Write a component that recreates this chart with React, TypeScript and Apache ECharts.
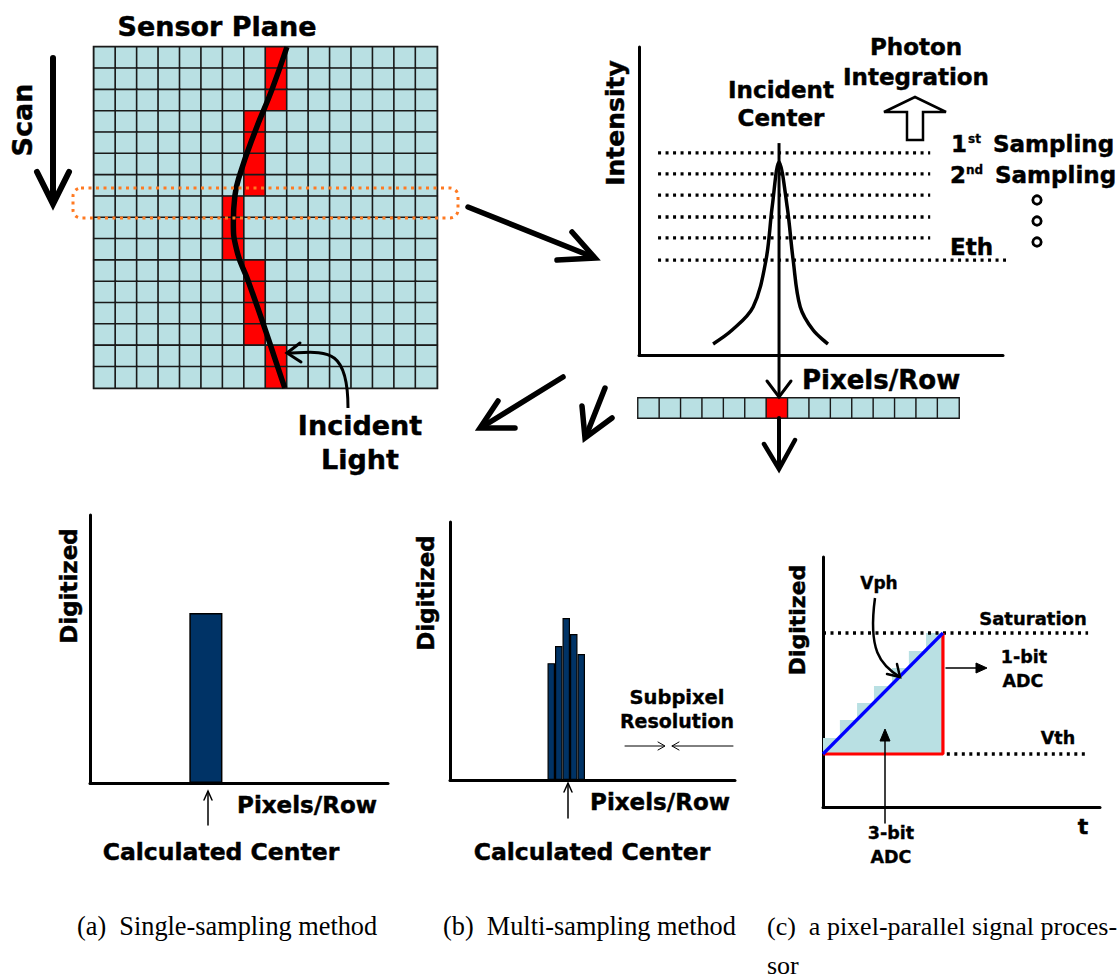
import React, { useEffect, useRef } from "react";
import * as echarts from "echarts";

// ---------- data ----------
const CELL_BLUE = "#b9e0e3";
const CELL_RED = "#ff0000";
const NAVY = "#003366";

const sensorCols = 16;
const sensorRows = 16;
// column of the lit (red) pixel in every row of the sensor plane
const sensorRedColumnByRow = [8, 8, 8, 7, 7, 7, 7, 6, 6, 6, 7, 7, 7, 7, 8, 8];
// incident light trace, in cell units (x = column, y = row from top)
const lightTraceCol = [9.0, 8.3, 7.5, 6.8, 6.57, 6.5, 6.65, 7.2, 7.9, 8.4, 8.9];
const lightTraceRow = [0, 2, 4, 6, 7, 8.2, 9.5, 11, 13, 14.5, 16];

// intensity profile across one row (x in pixel units, y in % of axis height)
const intensityX = [3.46, 4.35, 5.33, 5.93, 6.22, 6.54, 6.92, 7.2, 7.53, 8.13, 8.83];
const intensityY = [3.6, 8.1, 15.6, 30.8, 48.1, 62.7, 48.1, 30.8, 15.6, 8.1, 3.6];
const samplingLevels = [65.6, 58.8, 51.9, 44.8, 38.0, 30.8];
const samplingLineStart = 0.89;
const samplingLineEnds = [13.6, 13.6, 13.6, 13.6, 13.6, 17.57];
const incidentCenterX = 6.54;
const incidentCenterTop = 68.8;
const incidentCenterBottom = -13.7;

const pixelRowCount = 15;
const pixelRowRedIndex = 6;

// (a) single sampling
const singleCategories = ["0", "1", "2", "3", "4", "5", "6", "7", "8"];
const singleValues: (number | string)[] = ["-", "-", "-", 63.4, "-", "-", "-", "-", "-"];

// (b) multi sampling
const multiCategoryCount = 38;
const multiStartIndex = 13;
const multiValues = [45.3, 51.9, 62.8, 56.6, 48.8];

// (c) pixel-parallel processor
const vthLevel = 21.2;
const saturationLevel = 69.6;
const rampEndX = 43.3;
const dottedEndX = 95.7;
const stairEdgesX = [0, 6.1, 12.3, 18.4, 24.9, 31.0, 37.2, 43.3];
const stairTops = [27.6, 34.8, 41.6, 48.4, 55.6, 62.4, 69.6];

// ---------- helpers ----------
const FONT = "DejaVu Sans";

function txt(text: string, x: number, y: number, size: number, o: any = {}) {
  const align = o.align || "center";
  const heavy = !o.weight || o.weight === "bold";
  return {
    type: "text",
    z: 100,
    x,
    y,
    rotation: o.rotation || 0,
    style: {
      text,
      x: 0,
      y: 0,
      fill: "#000",
      stroke: heavy ? "#000" : null,
      lineWidth: heavy ? (o.sw ?? 0.45) : 0,
      fontSize: size,
      fontWeight: o.weight || "bold",
      fontFamily: o.family || FONT,
      align,
      textAlign: align,
      verticalAlign: "middle",
      textVerticalAlign: "middle",
    },
  };
}
function ln(x1: number, y1: number, x2: number, y2: number, w: number) {
  return { type: "line", z: 100, shape: { x1, y1, x2, y2 }, style: { stroke: "#000", lineWidth: w, lineCap: "round" } };
}
function pl(points: number[][], w: number) {
  return { type: "polyline", z: 100, shape: { points }, style: { stroke: "#000", lineWidth: w, fill: null, lineCap: "round", lineJoin: "miter" } };
}
function tri(points: number[][]) {
  return { type: "polygon", z: 100, shape: { points }, style: { fill: "#000", stroke: "#000", lineWidth: 1 } };
}

const axisStyle = {
  show: true,
  onZero: false,
  lineStyle: { color: "#000", width: 3 },
};
function chartAxis(extra: any) {
  return {
    axisLine: axisStyle,
    axisTick: { show: false },
    axisLabel: { show: false },
    splitLine: { show: false },
    ...extra,
  };
}
function dotted(data: number[][], xi: number, yi: number, clip = true) {
  return {
    type: "line",
    xAxisIndex: xi,
    yAxisIndex: yi,
    data,
    symbol: "none",
    clip,
    silent: true,
    lineStyle: { color: "#000", width: 3.3, type: [3, 4.5], cap: "butt" },
    z: 3,
  };
}

export default function App() {
  const ref = useRef<HTMLDivElement>(null);
  useEffect(() => {
    if (!ref.current) return;
    const chart = echarts.init(ref.current, undefined, { renderer: "svg" });

    const sensorData: number[][] = [];
    for (let r = 0; r < sensorRows; r++)
      for (let c = 0; c < sensorCols; c++)
        sensorData.push([c, r, sensorRedColumnByRow[r] === c ? 1 : 0]);
    const pixelData: number[][] = [];
    for (let c = 0; c < pixelRowCount; c++) pixelData.push([c, 0, c === pixelRowRedIndex ? 1 : 0]);

    const multiData: (number | string)[] = [];
    for (let i = 0; i < multiCategoryCount; i++) {
      const k = i - multiStartIndex;
      multiData.push(k >= 0 && k < multiValues.length ? multiValues[k] : "-");
    }

    const stairData: number[][] = [[0, vthLevel]];
    stairTops.forEach((t, k) => {
      stairData.push([stairEdgesX[k], t]);
      stairData.push([stairEdgesX[k + 1], t]);
    });
    stairData.push([rampEndX, vthLevel]);

    const cats = (n: number) => Array.from({ length: n }, (_, i) => String(i));

    const grids = [
      { left: 94, top: 47, width: 343, height: 341, show: true, borderColor: "#111", borderWidth: 2.5, backgroundColor: "transparent" }, // 0 sensor
      { left: 94, top: 47, width: 343, height: 341 }, // 1 sensor overlay
      { left: 639, top: 47, width: 364, height: 308 }, // 2 intensity
      { left: 638, top: 398, width: 321, height: 20 }, // 3 pixel row
      { left: 90, top: 515, width: 298, height: 268 }, // 4 single
      { left: 450, top: 522, width: 285, height: 258 }, // 5 multi
      { left: 823, top: 557, width: 277, height: 250 }, // 6 processor
    ];

    const xAxis = [
      { type: "category", gridIndex: 0, data: cats(sensorCols), show: false },
      { type: "value", gridIndex: 1, min: 0, max: 16, show: false },
      chartAxis({ type: "value", gridIndex: 2, min: 0, max: 17 }),
      { type: "category", gridIndex: 3, data: cats(pixelRowCount), show: false },
      chartAxis({ type: "category", gridIndex: 4, data: singleCategories }),
      chartAxis({ type: "category", gridIndex: 5, data: cats(multiCategoryCount) }),
      chartAxis({ type: "value", gridIndex: 6, min: 0, max: 100 }),
    ];
    const yAxis = [
      { type: "category", gridIndex: 0, data: cats(sensorRows), inverse: true, show: false },
      { type: "value", gridIndex: 1, min: 0, max: 16, inverse: true, show: false },
      chartAxis({ type: "value", gridIndex: 2, min: 0, max: 100 }),
      { type: "category", gridIndex: 3, data: ["row"], show: false },
      chartAxis({ type: "value", gridIndex: 4, min: 0, max: 100 }),
      chartAxis({ type: "value", gridIndex: 5, min: 0, max: 100 }),
      chartAxis({ type: "value", gridIndex: 6, min: 0, max: 100 }),
    ];

    const series: any[] = [
      {
        type: "heatmap",
        xAxisIndex: 0,
        yAxisIndex: 0,
        data: sensorData,
        itemStyle: { borderColor: "#1a1a1a", borderWidth: 1.6 },
        emphasis: { disabled: true },
        silent: true,
      },
      {
        type: "heatmap",
        xAxisIndex: 3,
        yAxisIndex: 3,
        data: pixelData,
        itemStyle: { borderColor: "#1a1a1a", borderWidth: 1.4 },
        emphasis: { disabled: true },
        silent: true,
      },
      {
        type: "line",
        xAxisIndex: 1,
        yAxisIndex: 1,
        data: lightTraceCol.map((c, i) => [c, lightTraceRow[i]]),
        smooth: 0.5,
        symbol: "none",
        lineStyle: { color: "#000", width: 5.5, cap: "butt" },
        z: 5,
      },
    ];
    samplingLevels.forEach((lvl, i) => {
      series.push(dotted([[samplingLineStart, lvl], [samplingLineEnds[i], lvl]], 2, 2, false));
    });
    series.push({
      type: "line",
      xAxisIndex: 2,
      yAxisIndex: 2,
      data: intensityX.map((x, i) => [x, intensityY[i]]),
      smooth: 0.35,
      symbol: "none",
      lineStyle: { color: "#000", width: 3.5 },
      z: 5,
    });
    series.push({
      type: "line",
      xAxisIndex: 2,
      yAxisIndex: 2,
      data: [[incidentCenterX, incidentCenterTop], [incidentCenterX, incidentCenterBottom]],
      symbol: "none",
      clip: false,
      lineStyle: { color: "#000", width: 3 },
      z: 6,
    });
    series.push({
      type: "bar",
      xAxisIndex: 4,
      yAxisIndex: 4,
      data: singleValues,
      barCategoryGap: "0%",
      itemStyle: { color: NAVY, borderColor: "#000", borderWidth: 1.5 },
    });
    series.push({
      type: "bar",
      xAxisIndex: 5,
      yAxisIndex: 5,
      data: multiData,
      barCategoryGap: "0%",
      itemStyle: { color: NAVY, borderColor: "#000", borderWidth: 1.2 },
    });
    series.push({
      type: "line",
      xAxisIndex: 6,
      yAxisIndex: 6,
      data: stairData,
      symbol: "none",
      lineStyle: { width: 0, color: CELL_BLUE },
      areaStyle: { color: CELL_BLUE, opacity: 1, origin: vthLevel },
      z: 2,
    });
    series.push(dotted([[0, saturationLevel], [dottedEndX, saturationLevel]], 6, 6));
    series.push(dotted([[rampEndX + 1.4, vthLevel], [dottedEndX, vthLevel]], 6, 6));
    series.push({
      type: "line",
      xAxisIndex: 6,
      yAxisIndex: 6,
      data: [[0, vthLevel], [rampEndX, vthLevel], [rampEndX, saturationLevel]],
      symbol: "none",
      lineStyle: { color: CELL_RED, width: 3.2 },
      z: 4,
    });
    series.push({
      type: "line",
      xAxisIndex: 6,
      yAxisIndex: 6,
      data: [[0, vthLevel], [rampEndX, saturationLevel]],
      symbol: "none",
      lineStyle: { color: "#0000ff", width: 3.2 },
      z: 5,
    });

    const serif = { align: "left", weight: "normal", family: "Liberation Serif" };
    const elements: any[] = [
      // sensor plane
      txt("Sensor Plane", 217, 26, 27),
      txt("Scan", 22, 120, 27, { rotation: Math.PI / 2 }),
      ln(53, 58, 53, 200, 6),
      pl([[37, 172], [53, 204], [69, 172]], 6),
      {
        type: "rect",
        z: 100,
        shape: { x: 73, y: 188, width: 385, height: 30, r: 8 },
        style: { fill: null, stroke: "#ff7a22", lineWidth: 3, lineDash: [3, 4.5] },
      },
      txt("Incident", 360, 425, 27),
      txt("Light", 360, 459, 27),
      {
        type: "bezierCurve",
        z: 100,
        shape: { x1: 348, y1: 408, cpx1: 348, cpy1: 345, cpx2: 325, cpy2: 352, x2: 288, y2: 353 },
        style: { stroke: "#000", lineWidth: 3, fill: null },
      },
      pl([[300, 343], [287, 353], [301, 362]], 3),
      // arrows between panels
      ln(468, 207, 593, 257, 5.5),
      pl([[572, 232], [595, 258], [557, 260]], 5.5),
      ln(563, 377, 482, 427, 5.5),
      pl([[498, 401], [480, 428], [515, 428]], 5.5),
      ln(605, 388, 586, 436, 5.5),
      pl([[582, 406], [585, 438], [612, 418]], 5.5),
      // intensity panel
      txt("Intensity", 615, 123, 25, { rotation: Math.PI / 2 }),
      txt("Incident", 781, 90, 23),
      txt("Center", 781, 118, 23),
      txt("Photon", 916, 47, 23),
      txt("Integration", 916, 77, 23),
      {
        type: "polygon",
        z: 100,
        shape: { points: [[907, 140], [907, 112], [884, 112], [915, 97], [946, 112], [923, 112], [923, 140]] },
        style: { fill: "#fff", stroke: "#000", lineWidth: 2.5 },
      },
      txt("1", 951, 144, 23, { align: "left" }),
      txt("st", 968, 139, 12, { align: "left", sw: 0.3 }),
      txt("Sampling", 993, 144, 23, { align: "left" }),
      txt("2", 950, 175, 23, { align: "left" }),
      txt("nd", 966, 170, 12, { align: "left", sw: 0.3 }),
      txt("Sampling", 995, 175, 23, { align: "left" }),
      txt("Eth", 950, 247, 23, { align: "left" }),
      { type: "circle", z: 100, shape: { cx: 1037, cy: 200, r: 4.2 }, style: { fill: null, stroke: "#000", lineWidth: 2.8 } },
      { type: "circle", z: 100, shape: { cx: 1037, cy: 221, r: 4.2 }, style: { fill: null, stroke: "#000", lineWidth: 2.8 } },
      { type: "circle", z: 100, shape: { cx: 1037, cy: 242, r: 4.2 }, style: { fill: null, stroke: "#000", lineWidth: 2.8 } },
      txt("Pixels/Row", 802, 380, 26, { align: "left" }),
      pl([[767, 381], [779, 397], [791, 381]], 3),
      ln(779, 418, 779, 468, 4),
      pl([[764, 444], [779, 469], [795, 440]], 4.5),
      // (a)
      txt("Digitized", 69, 586, 23, { rotation: Math.PI / 2 }),
      txt("Pixels/Row", 307, 805, 23),
      txt("Calculated Center", 221, 852, 23.5),
      ln(208, 825, 208, 792, 1.5),
      pl([[204, 800], [208, 791], [212, 800]], 1.5),
      // (b)
      txt("Digitized", 426, 593, 23, { rotation: Math.PI / 2 }),
      txt("Pixels/Row", 660, 802, 23),
      txt("Calculated Center", 592, 852, 23.5),
      ln(568, 818, 568, 784, 1.5),
      pl([[564, 792], [568, 783], [572, 792]], 1.5),
      txt("Subpixel", 677, 697, 19.5, { sw: 0.35 }),
      txt("Resolution", 677, 721, 19, { sw: 0.35 }),
      ln(625, 746, 664, 746, 1),
      pl([[658, 742], [665, 746], [658, 750]], 1),
      ln(672, 746, 733, 746, 1),
      pl([[679, 742], [672, 746], [679, 750]], 1),
      // (c)
      txt("Digitized", 797, 620, 22, { rotation: Math.PI / 2 }),
      txt("Vph", 879, 583, 17, { sw: 0.35 }),
      {
        type: "bezierCurve",
        z: 100,
        shape: { x1: 875, y1: 598, cpx1: 868, cpy1: 650, cpx2: 880, cpy2: 665, x2: 900, y2: 677 },
        style: { stroke: "#000", lineWidth: 2.5, fill: null },
      },
      pl([[887, 674], [900, 677], [897, 664]], 2.5),
      txt("Saturation", 1033, 618, 18, { sw: 0.35 }),
      txt("1-bit", 1024, 657, 17.5, { sw: 0.35 }),
      txt("ADC", 1023, 681, 17.5, { sw: 0.35 }),
      ln(946, 668, 980, 668, 1.5),
      tri([[987, 668], [976, 663], [976, 673]]),
      txt("Vth", 1058, 738, 17.5, { sw: 0.35 }),
      txt("3-bit", 891, 833, 17.5, { sw: 0.35 }),
      txt("ADC", 891, 857, 17.5, { sw: 0.35 }),
      ln(885, 823, 885, 738, 1.5),
      tri([[885, 729], [880, 741], [890, 741]]),
      txt("t", 1083, 826, 22),
      // captions
      txt("(a)\u00a0 Single-sampling method", 77, 926, 26.3, serif),
      txt("(b)\u00a0 Multi-sampling method", 443, 926, 26.3, serif),
      txt("(c)\u00a0 a pixel-parallel signal proces-", 767, 926, 26, serif),
      txt("sor", 767, 965, 26, serif),
    ];

    chart.setOption({
      animation: false,
      backgroundColor: "#fff",
      grid: grids,
      xAxis,
      yAxis,
      visualMap: [
        {
          type: "piecewise",
          show: false,
          dimension: 2,
          seriesIndex: [0, 1],
          pieces: [
            { value: 0, color: CELL_BLUE },
            { value: 1, color: CELL_RED },
          ],
        },
      ],
      series,
      graphic: { elements },
    });
    return () => chart.dispose();
  }, []);
  return (
    <div
      ref={ref}
      style={{ position: "absolute", left: 0, top: 0, width: 1120, height: 980, background: "#fff" }}
    />
  );
}
